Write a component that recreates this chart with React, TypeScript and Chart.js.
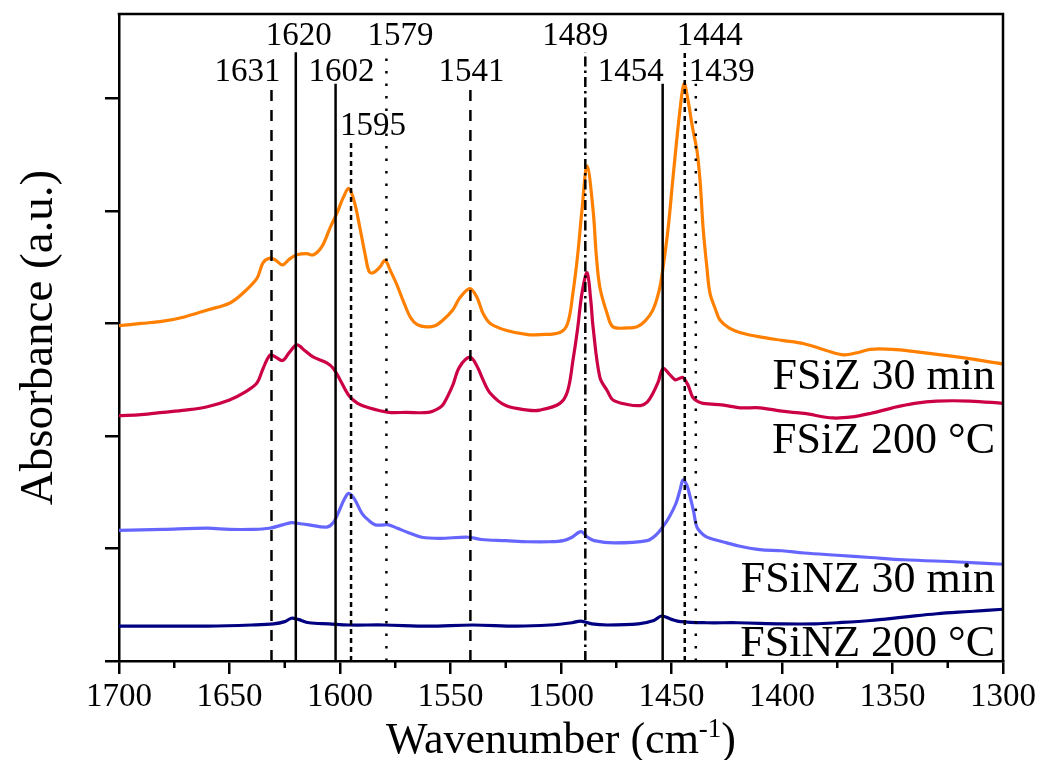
import React, { useEffect, useRef } from 'react';
import { Chart, registerables } from 'chart.js';

Chart.register(...registerables);

// ---------------- data ----------------
const fsiz30Wn = [1700, 1690, 1680, 1670, 1660, 1650, 1643.9, 1637.6, 1634.8, 1631.6, 1629, 1626, 1623, 1619.5, 1615, 1612, 1608, 1604.5, 1601.4, 1598.5, 1596, 1593.5, 1591, 1588.5, 1586.8, 1585, 1582, 1579.6, 1577, 1574.2, 1571, 1568, 1565, 1561, 1557, 1553.4, 1549, 1545.7, 1541.2, 1538, 1535.3, 1532, 1525, 1515, 1509.5, 1500.5, 1497, 1494.6, 1492.5, 1490.5, 1488.2, 1485.5, 1484, 1482.4, 1479, 1476.5, 1470, 1465.6, 1462, 1458.4, 1455.5, 1453.8, 1451.5, 1449.3, 1446.2, 1444.3, 1442.5, 1441, 1440, 1438.5, 1437, 1435.7, 1434, 1432.6, 1430, 1428.1, 1424, 1419.1, 1410, 1400, 1390, 1380, 1372, 1366, 1360, 1350, 1340, 1320, 1300];
const fsiz30Abs = [2.98, 3.0, 3.02, 3.06, 3.12, 3.18, 3.27, 3.4, 3.54, 3.58, 3.56, 3.52, 3.57, 3.61, 3.62, 3.61, 3.69, 3.85, 3.98, 4.12, 4.2, 4.08, 3.85, 3.6, 3.46, 3.45, 3.5, 3.56, 3.46, 3.34, 3.18, 3.05, 2.99, 2.97, 2.98, 3.03, 3.12, 3.23, 3.31, 3.23, 3.09, 3.0, 2.94, 2.9, 2.9, 2.92, 3.0, 3.27, 3.6, 4.01, 4.4, 4.01, 3.6, 3.32, 3.08, 2.97, 2.96, 2.97, 3.02, 3.12, 3.3, 3.5, 3.85, 4.3, 4.89, 5.13, 4.98, 4.8, 4.69, 4.54, 4.25, 3.85, 3.5, 3.27, 3.12, 3.03, 2.96, 2.92, 2.88, 2.85, 2.82, 2.76, 2.72, 2.74, 2.77, 2.77, 2.75, 2.7, 2.64];

const fsiz200Wn = [1700, 1690, 1680, 1670, 1660, 1650, 1643, 1637.6, 1634.8, 1631.6, 1629, 1626, 1623, 1619.5, 1616, 1612, 1606, 1603, 1600, 1596, 1592, 1587, 1578, 1570, 1560, 1555, 1553, 1549, 1546, 1541.2, 1538, 1535.3, 1532, 1525, 1515, 1509.5, 1500.5, 1497, 1494.6, 1492.5, 1490.5, 1488.2, 1486.5, 1485.5, 1482.4, 1479, 1476.5, 1470, 1464, 1461, 1458.4, 1456, 1453.8, 1451, 1448.4, 1446.5, 1444.8, 1442.5, 1440.3, 1437.5, 1435.7, 1425, 1419, 1410, 1400, 1390, 1377, 1368, 1360, 1350, 1340, 1330, 1315, 1300];
const fsiz200Abs = [2.18, 2.19, 2.21, 2.23, 2.26, 2.32, 2.39, 2.47, 2.6, 2.72, 2.7, 2.67, 2.74, 2.81, 2.76, 2.7, 2.65, 2.6, 2.5, 2.36, 2.29, 2.25, 2.21, 2.21, 2.21, 2.25, 2.29, 2.45, 2.61, 2.7, 2.62, 2.5, 2.38, 2.27, 2.23, 2.23, 2.29, 2.4, 2.67, 2.95, 3.27, 3.45, 3.2, 2.97, 2.52, 2.4, 2.32, 2.28, 2.27, 2.3, 2.38, 2.48, 2.6, 2.55, 2.5, 2.51, 2.52, 2.45, 2.34, 2.3, 2.29, 2.27, 2.25, 2.25, 2.22, 2.2, 2.16, 2.17, 2.2, 2.25, 2.29, 2.31, 2.31, 2.29];

const fsinz30Wn = [1700, 1680, 1660, 1650, 1640, 1632, 1626, 1622, 1618, 1614, 1606, 1603, 1600.5, 1598, 1596, 1593.5, 1590, 1587, 1584, 1580, 1578, 1574, 1569, 1563, 1555, 1542, 1536, 1525, 1515, 1505, 1499, 1495, 1491, 1488, 1485, 1476, 1461, 1457, 1454, 1451, 1448, 1446, 1444.8, 1443, 1441.6, 1440, 1438.5, 1435.5, 1432.6, 1425, 1419, 1410, 1400, 1390, 1375, 1360, 1345, 1320, 1300];
const fsinz30Abs = [1.16, 1.17, 1.18, 1.17, 1.17, 1.18, 1.21, 1.23, 1.22, 1.21, 1.19, 1.23, 1.33, 1.44, 1.49, 1.44, 1.31, 1.25, 1.21, 1.21, 1.21, 1.18, 1.14, 1.1, 1.09, 1.1, 1.08, 1.07, 1.06, 1.06, 1.07, 1.1, 1.15, 1.1, 1.07, 1.05, 1.07, 1.12, 1.19, 1.28, 1.4, 1.53, 1.61, 1.56, 1.46, 1.33, 1.19, 1.12, 1.09, 1.05, 1.02, 0.99, 0.98, 0.96, 0.94, 0.92, 0.9, 0.88, 0.86];

const fsinz200Wn = [1700, 1680, 1660, 1640, 1630, 1625, 1622, 1619, 1614, 1605, 1596, 1580, 1560, 1540, 1520, 1505, 1495, 1491, 1486, 1479, 1465, 1458, 1454.5, 1450, 1446, 1434, 1420, 1400, 1385, 1375, 1360, 1345, 1330, 1315, 1300];
const fsinz200Abs = [0.31, 0.31, 0.31, 0.32, 0.33, 0.35, 0.38, 0.37, 0.34, 0.33, 0.32, 0.32, 0.31, 0.32, 0.31, 0.32, 0.34, 0.355, 0.33, 0.32, 0.33, 0.36, 0.4, 0.37, 0.35, 0.34, 0.34, 0.33, 0.33, 0.34, 0.36, 0.39, 0.42, 0.44, 0.46];

const seriesNames = ['FSiZ 30 min', 'FSiZ 200 °C', 'FSiNZ 30 min', 'FSiNZ 200 °C'];
const seriesWn = [fsiz30Wn, fsiz200Wn, fsinz30Wn, fsinz200Wn];
const seriesAbs = [fsiz30Abs, fsiz200Abs, fsinz30Abs, fsinz200Abs];
// baseline of each series label, in absorbance units
const seriesLabelY = [2.416, 1.847, 0.613, 0.044];

// peak markers
const peakWn = [1631, 1620, 1602, 1595, 1579, 1541, 1489, 1454, 1444, 1439];
const peakStyle = ['dashed', 'solid', 'solid', 'dense', 'dotted', 'dashed', 'dashDot', 'solid', 'dense', 'dotted'];
const peakRow = [2, 1, 2, 3, 1, 2, 1, 2, 1, 2];

const minorTicks = [1675, 1625, 1575, 1525, 1475, 1425, 1375, 1325];

// ---------------- styles ----------------
const FONT = '"Liberation Serif", "Times New Roman", serif';
const seriesColors = ['#FF8000', '#CC0044', '#6666FF', '#000080'];
const dashes: Record<string, number[]> = {
  solid: [],
  dashed: [11, 9],
  dense: [5, 4],
  dotted: [2.5, 10],
  dashDot: [10, 4, 2.5, 4],
};
const rowTop: Record<number, number> = { 1: 5.41, 2: 5.13, 3: 4.63 };
const rowGap: Record<number, number> = { 1: 7, 2: 3, 3: 5 };
const labelDx = [-24, 3, 6, 22, 14, 1, -10, -32, 25, 26];

const framePlugin = {
  id: 'frameAndText',
  afterDraw(chart: any) {
    const { ctx, chartArea, scales } = chart;
    const xs = scales.x;
    const ys = scales.y;
    ctx.save();
    ctx.strokeStyle = '#000';
    ctx.lineWidth = 2.5;
    ctx.setLineDash([]);
    ctx.beginPath();
    ctx.moveTo(chartArea.left - 1.25, chartArea.top);
    ctx.lineTo(chartArea.right, chartArea.top);
    ctx.lineTo(chartArea.right, chartArea.bottom + 1.25);
    ctx.stroke();
    ctx.beginPath();
    for (const v of minorTicks) {
      const px = xs.getPixelForValue(v);
      ctx.moveTo(px, chartArea.bottom);
      ctx.lineTo(px, chartArea.bottom + 7);
    }
    ctx.stroke();

    ctx.fillStyle = '#000';
    ctx.font = `33px ${FONT}`;
    ctx.textAlign = 'center';
    ctx.textBaseline = 'alphabetic';
    peakWn.forEach((w, i) => {
      const px = xs.getPixelForValue(w) + labelDx[i];
      const py = ys.getPixelForValue(rowTop[peakRow[i]]) - rowGap[peakRow[i]];
      ctx.fillText(String(w), px, py);
    });

    ctx.font = `44px ${FONT}`;
    ctx.textAlign = 'right';
    seriesNames.forEach((n, i) => {
      ctx.fillText(n, chartArea.right - 8, ys.getPixelForValue(seriesLabelY[i]));
    });

    const main1 = 'Wavenumber (cm';
    const sup = '-1';
    const main2 = ')';
    ctx.textAlign = 'left';
    ctx.font = `44px ${FONT}`;
    const w1 = ctx.measureText(main1).width;
    const w3 = ctx.measureText(main2).width;
    ctx.font = `27px ${FONT}`;
    const w2 = ctx.measureText(sup).width;
    const cx = (chartArea.left + chartArea.right) / 2;
    let sx = cx - (w1 + w2 + w3) / 2;
    const base = 753;
    ctx.font = `44px ${FONT}`;
    ctx.fillText(main1, sx, base);
    sx += w1;
    ctx.font = `27px ${FONT}`;
    ctx.fillText(sup, sx, base - 16);
    sx += w2;
    ctx.font = `44px ${FONT}`;
    ctx.fillText(main2, sx, base);

    ctx.translate(52, (chartArea.top + chartArea.bottom) / 2);
    ctx.rotate(-Math.PI / 2);
    ctx.textAlign = 'center';
    ctx.font = `47px ${FONT}`;
    ctx.fillText('Absorbance (a.u.)', 0, 0);
    ctx.restore();
  },
};

export default function App() {
  const ref = useRef<HTMLCanvasElement>(null);
  useEffect(() => {
    if (!ref.current) return;
    const peakSets = peakWn.map((w, i) => ({
      type: 'line' as const,
      data: [
        { x: w, y: 0 },
        { x: w, y: rowTop[peakRow[i]] },
      ],
      borderColor: '#000',
      borderWidth: 2.5,
      borderDash: dashes[peakStyle[i]],
      borderCapStyle: 'butt' as const,
      pointRadius: 0,
      fill: false,
      tension: 0,
    }));
    const seriesSets = seriesNames.map((n, s) => ({
      type: 'line' as const,
      label: n,
      data: seriesWn[s].map((w, i) => ({ x: w, y: seriesAbs[s][i] })),
      borderColor: seriesColors[s],
      borderWidth: 3.2,
      pointRadius: 0,
      fill: false,
      tension: 0.35,
      borderJoinStyle: 'round' as const,
    }));
    const chart = new Chart(ref.current, {
      type: 'line',
      data: { datasets: [...peakSets, ...seriesSets] as any },
      options: {
        responsive: false,
        animation: false,
        devicePixelRatio: 1,
        parsing: false as any,
        normalized: true,
        layout: { padding: { top: 14, right: 37, left: 0, bottom: 0 } },
        plugins: {
          legend: { display: false },
          tooltip: { enabled: false },
          title: { display: false },
        },
        scales: {
          x: {
            type: 'linear',
            reverse: true,
            min: 1300,
            max: 1700,
            ticks: {
              stepSize: 50,
              color: '#000',
              font: { family: FONT, size: 33 },
              padding: 4,
              maxRotation: 0,
              autoSkip: false,
              callback: (v: any) => String(v),
            },
            grid: {
              drawOnChartArea: false,
              drawTicks: true,
              tickLength: 13,
              color: '#000',
              lineWidth: 2.5,
            },
            border: { display: true, color: '#000', width: 2.5 },
            afterFit: (s: any) => {
              s.height = 99;
            },
          },
          y: {
            type: 'linear',
            min: 0,
            max: 5.75,
            ticks: { stepSize: 1, includeBounds: false, display: false },
            grid: {
              drawOnChartArea: false,
              drawTicks: true,
              tickLength: 14,
              color: '#000',
              lineWidth: 2.5,
            },
            border: { display: true, color: '#000', width: 2.5 },
            afterFit: (s: any) => {
              s.width = 119;
            },
          },
        },
      },
      plugins: [framePlugin],
    });
    return () => chart.destroy();
  }, []);
  return (
    <div style={{ position: 'absolute', left: 0, top: 0, width: 1040, height: 760, background: '#fff' }}>
      <canvas ref={ref} width={1040} height={760} style={{ display: 'block' }} />
    </div>
  );
}
